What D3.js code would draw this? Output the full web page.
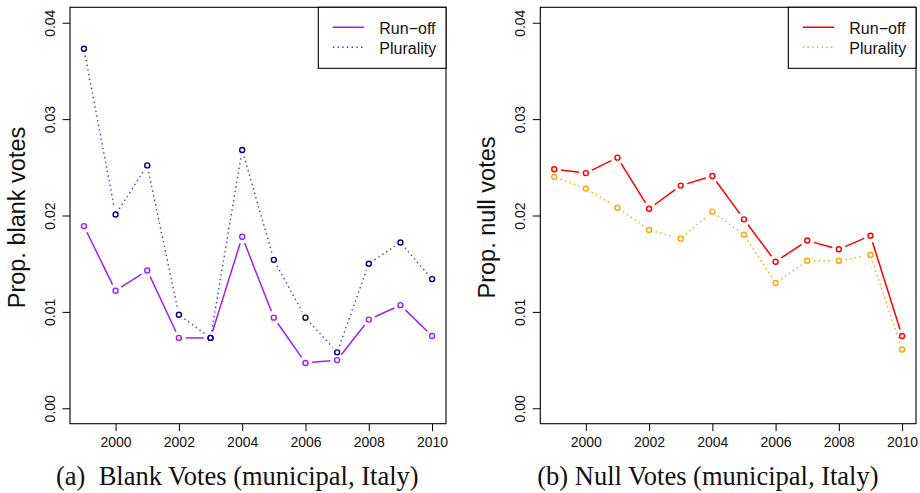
<!DOCTYPE html>
<html>
<head>
<meta charset="utf-8">
<script src="https://cdn.jsdelivr.net/npm/d3@7"></script>
<style>
  html, body { margin: 0; padding: 0; background: #fff; }
  svg { display: block; }
  text { font-family: "Liberation Sans", Arial, Helvetica, sans-serif; }
  .caption { font-family: "Liberation Serif", "Times New Roman", serif; white-space: pre; }
</style>
</head>
<body>
<svg id="chart" width="920" height="493"></svg>
<script>
// Election years shown on both panels
const years = [1999, 2000, 2001, 2002, 2003, 2004, 2005, 2006, 2007, 2008, 2009, 2010];

// Proportion of blank votes, municipal elections
const blankRunoff    = [0.0189, 0.0122, 0.0143, 0.0073, 0.0073, 0.0178, 0.0094, 0.0047, 0.0050, 0.0092, 0.0107, 0.0075];
const blankPlurality = [0.0373, 0.0201, 0.0252, 0.0097, 0.0073, 0.0268, 0.0154, 0.0094, 0.0058, 0.0150, 0.0172, 0.0134];

// Proportion of null votes, municipal elections
const nullRunoff     = [0.0248, 0.0244, 0.0260, 0.0207, 0.0231, 0.0241, 0.0196, 0.0152, 0.0174, 0.0165, 0.0179, 0.0075];
const nullPlurality  = [0.0240, 0.0228, 0.0208, 0.0185, 0.0176, 0.0204, 0.0180, 0.0130, 0.0153, 0.0153, 0.0159, 0.0061];

const yTicks = [0.00, 0.01, 0.02, 0.03, 0.04];
const xTicks = [2000, 2002, 2004, 2006, 2008, 2010];
const legendLabels = ["Run\u2212off", "Plurality"];

const svg = d3.select("#chart");

const plotTop = 7.3, plotBottom = 423.7;

function panel(cfg) {
  const g = svg.append("g");
  // R-style 4% padding around the data range
  const xPad = (2010 - 1999) * 0.04, yPad = 0.04 * 0.04;
  const x = d3.scaleLinear().domain([1999 - xPad, 2010 + xPad]).range([cfg.left, cfg.right]);
  const y = d3.scaleLinear().domain([0 - yPad, 0.04 + yPad]).range([plotBottom, plotTop]);

  // y axis
  const yAxis = d3.axisLeft(y).tickValues(yTicks).tickSize(7.5).tickPadding(0)
    .tickFormat(d3.format(".2f"));
  const ya = g.append("g").attr("transform", `translate(${cfg.left},0)`).call(yAxis);
  ya.select(".domain").remove();
  ya.selectAll(".tick line").attr("stroke", "#000").attr("stroke-width", 1);
  ya.selectAll(".tick text")
    .attr("x", null).attr("dy", null)
    .attr("transform", `translate(${-15},0) rotate(-90)`)
    .attr("text-anchor", "middle")
    .attr("font-size", 14).attr("fill", "#111");

  // x axis
  const xAxis = d3.axisBottom(x).tickValues(xTicks).tickSize(7.5).tickFormat(d3.format("d"));
  const xa = g.append("g").attr("transform", `translate(0,${plotBottom})`).call(xAxis);
  xa.select(".domain").remove();
  xa.selectAll(".tick line").attr("stroke", "#000").attr("stroke-width", 1);
  xa.selectAll(".tick text").attr("y", 23.5).attr("dy", null)
    .attr("font-size", 14).attr("fill", "#111");

  // plot box
  g.append("rect")
    .attr("x", cfg.left).attr("y", plotTop)
    .attr("width", cfg.right - cfg.left).attr("height", plotBottom - plotTop)
    .attr("fill", "none").attr("stroke", "#000").attr("stroke-width", 1.1);

  // y label
  g.append("text")
    .attr("transform", `translate(${cfg.left - 45},${(plotTop + plotBottom) / 2 + 2}) rotate(-90)`)
    .attr("text-anchor", "middle")
    .attr("font-size", 23.5).attr("fill", "#111")
    .text(cfg.ylabel);

  // series drawn as points joined by segments that stop short of each point
  const gap = 6.8;
  function series(vals, color, dash, ptColor) {
    const pts = years.map((yr, i) => [x(yr), y(vals[i])]);
    const segs = [];
    for (let i = 0; i < pts.length - 1; i++) {
      const [x0, y0] = pts[i], [x1, y1] = pts[i + 1];
      const L = Math.hypot(x1 - x0, y1 - y0);
      if (L <= 2 * gap) continue;
      const ux = (x1 - x0) / L, uy = (y1 - y0) / L;
      segs.push([x0 + ux * gap, y0 + uy * gap, x1 - ux * gap, y1 - uy * gap]);
    }
    g.append("g").selectAll("line").data(segs).join("line")
      .attr("x1", d => d[0]).attr("y1", d => d[1])
      .attr("x2", d => d[2]).attr("y2", d => d[3])
      .attr("stroke", color).attr("stroke-width", dash ? 1.4 : 1.5)
      .attr("stroke-dasharray", dash ? "1.4,3.3" : null);
    g.append("g").selectAll("circle").data(pts).join("circle")
      .attr("cx", d => d[0]).attr("cy", d => d[1]).attr("r", 2.5)
      .attr("fill", "none").attr("stroke", ptColor || color).attr("stroke-width", 1.4);
  }
  series(cfg.a, cfg.colA, false);
  series(cfg.b, cfg.colB, true, cfg.ptB);

  // legend
  const lx = cfg.legendLeft, lb = 68.3;
  g.append("rect").attr("x", lx).attr("y", plotTop)
    .attr("width", cfg.right - lx).attr("height", lb - plotTop)
    .attr("fill", "#fff").attr("stroke", "#000").attr("stroke-width", 1.1);
  const rows = [
    { label: legendLabels[0], color: cfg.colA, dash: null, y: 27.3 },
    { label: legendLabels[1], color: cfg.colB, dash: "1.4,3.3", y: 47.3 }
  ];
  rows.forEach(r => {
    g.append("line").attr("x1", lx + 14.5).attr("x2", lx + 46)
      .attr("y1", r.y).attr("y2", r.y)
      .attr("stroke", r.color).attr("stroke-width", 1.5)
      .attr("stroke-dasharray", r.dash);
    g.append("text").attr("x", lx + 61).attr("y", r.y + 6.5)
      .attr("font-size", 16).attr("fill", "#111").text(r.label);
  });

  // caption
  svg.append("text").attr("class", "caption")
    .attr("x", cfg.capX).attr("y", 485)
    .attr("font-size", 26.5).attr("fill", "#111")
    .text(cfg.caption);
}

panel({
  left: 70, right: 446, legendLeft: 318.3,
  ylabel: "Prop. blank votes",
  a: blankRunoff, b: blankPlurality,
  colA: "#A020F0", colB: "#3b3bd0", ptB: "#00008B",
  capX: 56, caption: "(a)  Blank Votes (municipal, Italy)"
});

panel({
  left: 540.3, right: 916, legendLeft: 788.3,
  ylabel: "Prop. null votes",
  a: nullRunoff, b: nullPlurality,
  colA: "#FF0000", colB: "#FFA500",
  capX: 537.3, caption: "(b) Null Votes (municipal, Italy)"
});
</script>
</body>
</html>
